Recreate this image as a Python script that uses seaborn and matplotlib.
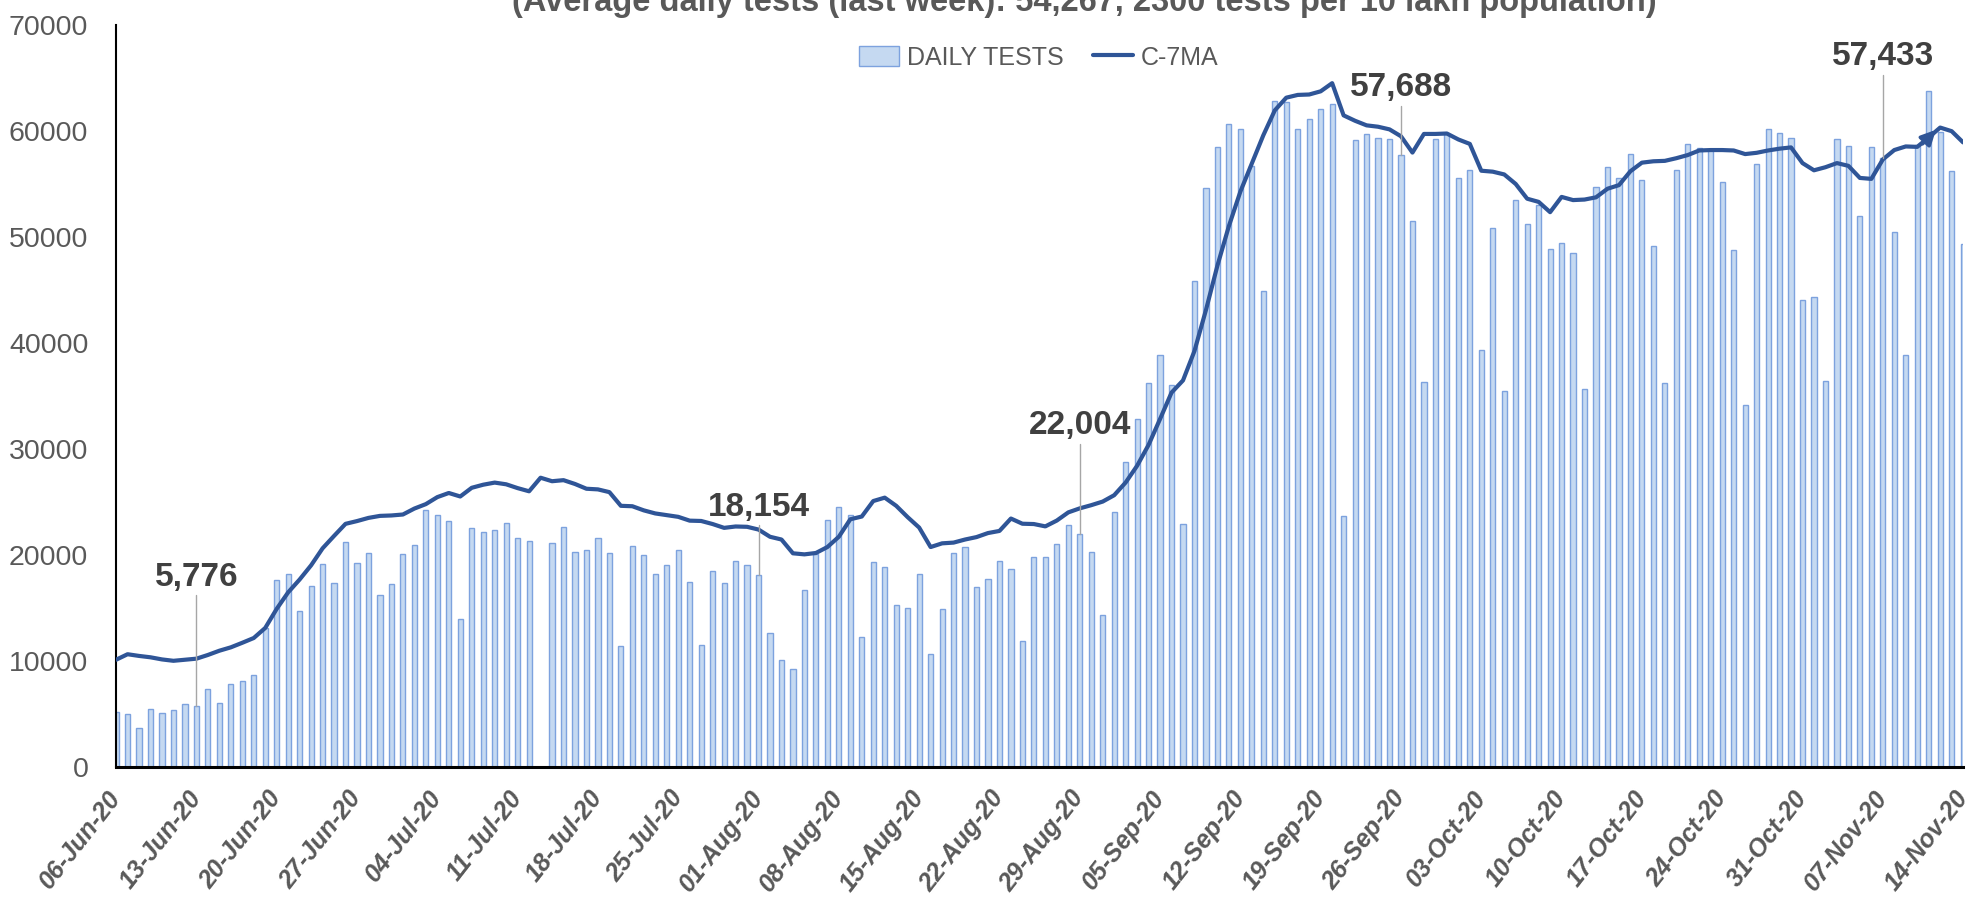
import numpy as np
import pandas as pd
import seaborn as sns
import matplotlib.pyplot as plt
from matplotlib.patches import Patch
from matplotlib.lines import Line2D

# daily tests, 06-Jun-20 .. 14-Nov-20 (one value per day, 13-Jul missing)
daily_tests = [
    5190, 5030, 3660, 5450, 5060, 5350, 5940, 5776, 7340, 6070,
    7800, 8090, 8710, 13120, 17620, 18180, 14750, 17040, 19160, 17360,
    21250, 19290, 20200, 16220, 17270, 20070, 20920, 24250, 23790, 23240,
    13940, 22550, 22130, 22390, 23040, 21610, 21350, np.nan, 21150, 22680,
    20330, 20500, 21620, 20190, 11440, 20810, 20000, 18180, 19090, 20490,
    17500, 11470, 18510, 17370, 19450, 19060, 18154, 12670, 10080, 9240,
    16730, 20130, 23340, 24540, 23760, 12290, 19380, 18830, 15330, 14980,
    18250, 10660, 14910, 20230, 20750, 16950, 17700, 19420, 18670, 11860,
    19810, 19800, 21000, 22860, 22004, 20330, 14340, 24100, 28810, 32830,
    36220, 38910, 36040, 22900, 45800, 54620, 58480, 60660, 60190, 56720,
    44910, 62800, 62710, 60150, 61170, 62110, 62540, 23670, 59120, 59720,
    59290, 59250, 57688, 51540, 36300, 59250, 59720, 55570, 56340, 39340,
    50860, 35500, 53500, 51230, 53060, 48850, 49450, 48470, 35680, 54670,
    56630, 55610, 57820, 55400, 49110, 36190, 56290, 58750, 58410, 58160,
    55140, 48810, 34150, 56880, 60200, 59770, 59350, 44010, 44310, 36410,
    59220, 58580, 52000, 58500, 57433, 50430, 38830, 58710, 63760, 59860,
    56200, 49320,
]

# C-7MA
ma7 = [
    10120, 10640, 10480, 10350, 10150, 10020, 10120, 10220, 10570, 10970,
    11290, 11720, 12170, 13120, 14920, 16480, 17690, 19030, 20630, 21800,
    22940, 23200, 23500, 23690, 23730, 23820, 24380, 24800, 25460, 25850,
    25520, 26340, 26630, 26830, 26670, 26310, 26010, 27290, 26960, 27060,
    26700, 26250, 26190, 25930, 24640, 24600, 24210, 23920, 23760, 23600,
    23240, 23210, 22920, 22560, 22690, 22660, 22400, 21720, 21460, 20160,
    20060, 20190, 20750, 21720, 23370, 23630, 25090, 25410, 24640, 23570,
    22590, 20750, 21100, 21170, 21460, 21690, 22070, 22270, 23440, 22950,
    22920, 22700, 23250, 24020, 24400, 24700, 25040, 25640, 26840, 28420,
    30390, 32830, 35320, 36470, 39250, 43110, 47300, 51030, 54280, 56930,
    59590, 61940, 63140, 63400, 63440, 63740, 64510, 61470, 60960, 60530,
    60400, 60150, 59500, 57960, 59720, 59720, 59760, 59200, 58780, 56250,
    56160, 55900, 55000, 53610, 53310, 52340, 53780, 53480, 53530, 53740,
    54550, 54890, 56200, 57010, 57140, 57180, 57430, 57730, 58160, 58200,
    58200, 58160, 57820, 57940, 58160, 58330, 58450, 56970, 56290, 56580,
    56970, 56710, 55570, 55480, 57310, 58200, 58540, 58500, 59390, 60320,
    59980, 58920,
]

dates = pd.date_range('2020-06-06', periods=len(daily_tests), freq='D')
date_labels = dates.strftime('%d-%b-%y')

# callout labels: (day index, text, text height)
callouts = [
    (7, '5,776', 17900),
    (56, '18,154', 24500),
    (84, '22,004', 32200),
    (112, '57,688', 64100),
    (154, '57,433', 67000),
]

title = '(Average daily tests (last week): 54,267, 2300 tests per 10 lakh population)'

bar_face = '#C5D9F1'
bar_edge = '#7DA2DE'
line_col = '#2F5597'
grey = '#595959'

df = pd.DataFrame({'day': np.arange(len(daily_tests)), 'tests': daily_tests, 'ma': ma7})

sns.set_style('white')
plt.rcParams['font.family'] = ['Liberation Sans', 'DejaVu Sans']

fig = plt.figure(figsize=(19.71, 9.01), dpi=100)
ax = fig.add_axes([0.0589, 0.1487, 0.9371, 0.8236])

sns.barplot(data=df, x='day', y='tests', native_scale=True, width=0.45,
            color=bar_face, saturation=1, edgecolor=bar_edge, linewidth=1,
            errorbar=None, ax=ax)
sns.lineplot(data=df, x='day', y='ma', color=line_col, linewidth=3.0, ax=ax, zorder=3)

# small arrow head near the end of the average line
ax.annotate('', xy=(158.8, 60300), xytext=(157.3, 58600),
            arrowprops=dict(arrowstyle='-|>', color=line_col, lw=2.6, mutation_scale=22),
            zorder=4)

for d, txt, ty in callouts:
    v = df.loc[d, 'tests']
    ax.plot([d, d], [v, ty - 1700], color='#A6A6A6', lw=1, zorder=4)
    ax.text(d, ty, txt, ha='center', va='center', fontsize=24, fontweight='bold',
            color='#404040', zorder=5)

ax.set_xlim(0, len(daily_tests) - 1)
ax.set_ylim(0, 70000)
ax.set_yticks(range(0, 70001, 10000))
ax.set_yticklabels([str(v) for v in range(0, 70001, 10000)], fontsize=20.5, color=grey)
ax.tick_params(axis='y', length=0, pad=20)

ticks = np.arange(0, len(daily_tests), 7)
ax.set_xticks(ticks)
ax.set_xticklabels(date_labels[ticks], rotation=52, ha='right', va='center',
                   rotation_mode='anchor', fontsize=18, fontweight='bold',
                   fontstyle='italic', color=grey)
ax.tick_params(axis='x', direction='out', length=9, width=1.5, color='black', pad=10)

ax.set_xlabel('')
ax.set_ylabel('')
for s in ['top', 'right']:
    ax.spines[s].set_visible(False)
ax.spines['left'].set_color('black')
ax.spines['left'].set_linewidth(1.5)
ax.spines['bottom'].set_color('black')
ax.spines['bottom'].set_linewidth(2.2)

handles = [Patch(facecolor=bar_face, edgecolor=bar_edge, label='DAILY TESTS'),
           Line2D([0], [0], color=line_col, lw=3, label='C-7MA')]
fig.legend(handles=handles, loc='center', bbox_to_anchor=(0.527, 0.936), ncol=2,
           frameon=False, fontsize=18, labelcolor=grey, handlelength=1.6,
           handleheight=0.9, columnspacing=1.2, handletextpad=0.3)

# title sits partly above the top edge of the image
fig.text(0.55, 1 - 11 / 901, title, ha='center', va='baseline', fontsize=23.5,
         fontweight='bold', color=grey)

fig.savefig('out.png', dpi=100)
